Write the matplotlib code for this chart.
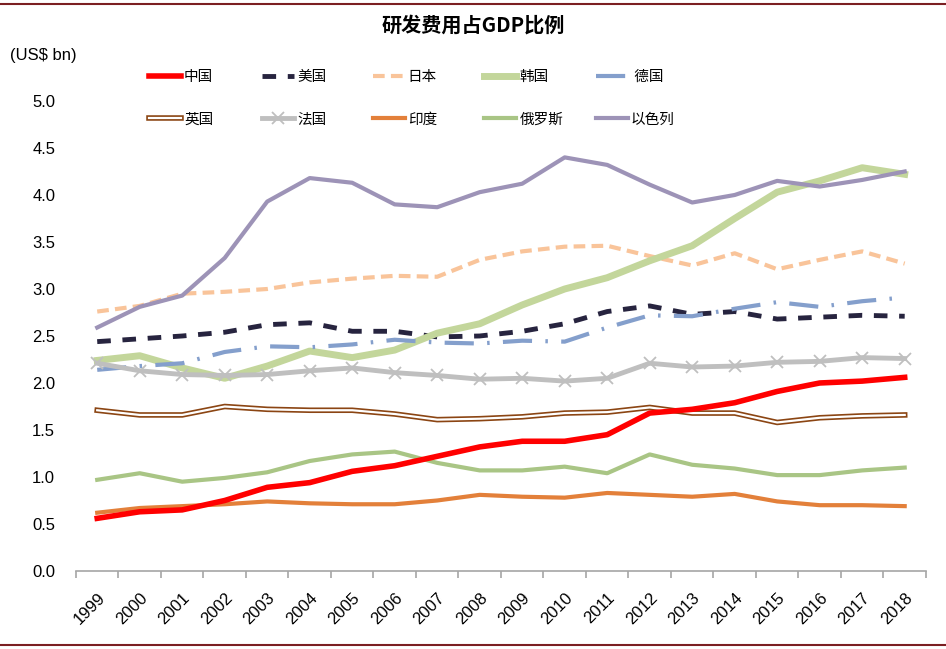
import numpy as np
import matplotlib.pyplot as plt
from matplotlib.lines import Line2D
import matplotlib.patheffects as pe

plt.rcParams['font.family'] = ['Liberation Sans', 'Noto Sans CJK SC', 'DejaVu Sans']

# 数据 (研发费用占GDP比例)
years = [str(y) for y in range(1999, 2019)]
china = [0.56, 0.63, 0.65, 0.75, 0.89, 0.94, 1.06, 1.12, 1.22, 1.32,
         1.38, 1.38, 1.45, 1.68, 1.72, 1.79, 1.91, 2.00, 2.02, 2.06]
usa = [2.44, 2.47, 2.50, 2.54, 2.62, 2.64, 2.55, 2.55, 2.49, 2.50,
       2.55, 2.63, 2.76, 2.82, 2.73, 2.76, 2.68, 2.70, 2.72, 2.71]
japan = [2.76, 2.82, 2.95, 2.97, 3.00, 3.07, 3.11, 3.14, 3.13, 3.31,
         3.40, 3.45, 3.46, 3.35, 3.25, 3.38, 3.21, 3.31, 3.40, 3.27]
korea = [2.24, 2.29, 2.16, 2.05, 2.18, 2.34, 2.27, 2.35, 2.53, 2.63,
         2.83, 3.00, 3.12, 3.30, 3.46, 3.75, 4.03, 4.15, 4.29, 4.22]
germany = [2.14, 2.18, 2.21, 2.33, 2.39, 2.38, 2.41, 2.46, 2.43, 2.42,
           2.45, 2.44, 2.59, 2.72, 2.71, 2.79, 2.86, 2.81, 2.87, 2.91]
uk = [1.71, 1.66, 1.66, 1.75, 1.72, 1.71, 1.71, 1.67, 1.61, 1.62,
      1.64, 1.68, 1.69, 1.74, 1.68, 1.68, 1.58, 1.63, 1.65, 1.66]
france = [2.21, 2.13, 2.09, 2.08, 2.09, 2.13, 2.16, 2.11, 2.08, 2.04,
          2.05, 2.02, 2.05, 2.21, 2.17, 2.18, 2.22, 2.23, 2.27, 2.26]
india = [0.62, 0.67, 0.69, 0.71, 0.74, 0.72, 0.71, 0.71, 0.75, 0.81,
         0.79, 0.78, 0.83, 0.81, 0.79, 0.82, 0.74, 0.70, 0.70, 0.69]
russia = [0.97, 1.04, 0.95, 0.99, 1.05, 1.17, 1.24, 1.27, 1.15, 1.07,
          1.07, 1.11, 1.04, 1.24, 1.13, 1.09, 1.02, 1.02, 1.07, 1.10]
israel = [2.59, 2.81, 2.93, 3.33, 3.93, 4.18, 4.13, 3.90, 3.87, 4.03,
          4.12, 4.40, 4.32, 4.11, 3.92, 4.00, 4.15, 4.09, 4.16, 4.25]

x = np.arange(len(years))

fig = plt.figure(figsize=(9.46, 6.49), dpi=100)
ax = fig.add_axes([0.0803, 0.1202, 0.8985, 0.7242])

cjk = ['Noto Sans CJK SC', 'DejaVu Sans']

# 线条
h_cn, = ax.plot(x, china, color='#FF0000', lw=4, zorder=10, label='中国')
h_us, = ax.plot(x, usa, color='#27243F', lw=3.5, dashes=(2.8, 2.4), label='美国')
h_jp, = ax.plot(x, japan, color='#F9C49A', lw=3, dashes=(2.8, 1.5), label='日本')
h_kr, = ax.plot(x, korea, color='#C3D69B', lw=5, label='韩国')
h_de, = ax.plot(x, germany, color='#849FCC', lw=3, dashes=(7, 3.2, 0.6, 3.2), label=' 德国')
h_uk, = ax.plot(x, uk, color='#FFFFFF', lw=1.6, label='英国',
                path_effects=[pe.Stroke(linewidth=4, foreground='#8B4513'), pe.Normal()])
h_fr, = ax.plot(x, france, color='#BFBFBF', lw=3.5, marker='x', ms=8, mew=1.3,
                label='法国')
h_in, = ax.plot(x, india, color='#E3803A', lw=3, label='印度')
h_ru, = ax.plot(x, russia, color='#A9C585', lw=3, label='俄罗斯')
h_il, = ax.plot(x, israel, color='#9D93B7', lw=3, label='以色列')

# 坐标轴
ax.set_xlim(-0.5, len(years) - 0.5)
ax.set_ylim(0, 5.0)
ax.set_yticks(np.arange(0, 5.01, 0.5))
ax.set_yticklabels([f'{v:.1f}' for v in np.arange(0, 5.01, 0.5)], fontsize=12)
ax.tick_params(axis='y', length=0, pad=15)

ax.set_xticks(np.arange(-0.5, len(years), 1.0))
ax.set_xticklabels([])
ax.set_xticks(x, minor=True)
ax.set_xticklabels(years, minor=True, rotation=45, ha='right',
                   rotation_mode='anchor', fontsize=12)
ax.tick_params(axis='x', which='major', length=5, width=1.2, color='#A6A6A6',
               direction='out')
ax.tick_params(axis='x', which='minor', length=0, pad=14)

for s in ['top', 'right', 'left']:
    ax.spines[s].set_visible(False)
ax.spines['bottom'].set_color('#A6A6A6')
ax.spines['bottom'].set_linewidth(1.2)

# 图例: 五列, 两行
cols = [(h_cn, h_uk), (h_us, h_fr), (h_jp, h_in), (h_kr, h_ru), (h_de, h_il)]
col_x = [0.1575, 0.277, 0.394, 0.512, 0.630]
for (a, b), cx in zip(cols, col_x):
    leg = fig.legend([a, b], [a.get_label(), b.get_label()], loc='upper left',
                     bbox_to_anchor=(cx, 0.892), frameon=False,
                     handlelength=2.2, handletextpad=0.2, labelspacing=1.95,
                     borderpad=0, borderaxespad=0, prop={'family': cjk, 'size': 10.5})

# 标题和单位
fig.text(0.5, 0.962, '研发费用占GDP比例', ha='center', va='center',
         fontsize=14.5, fontweight='bold', family=cjk)
fig.text(0.011, 0.914, '(US$ bn)', ha='left', va='center', fontsize=12)

# 上下边框线
fig.add_artist(Line2D([0, 1], [0.994, 0.994], color='#7B1F22', lw=1.5))
fig.add_artist(Line2D([0, 1], [0.006, 0.006], color='#7B1F22', lw=1.5))

fig.savefig('out.png', dpi=100)
